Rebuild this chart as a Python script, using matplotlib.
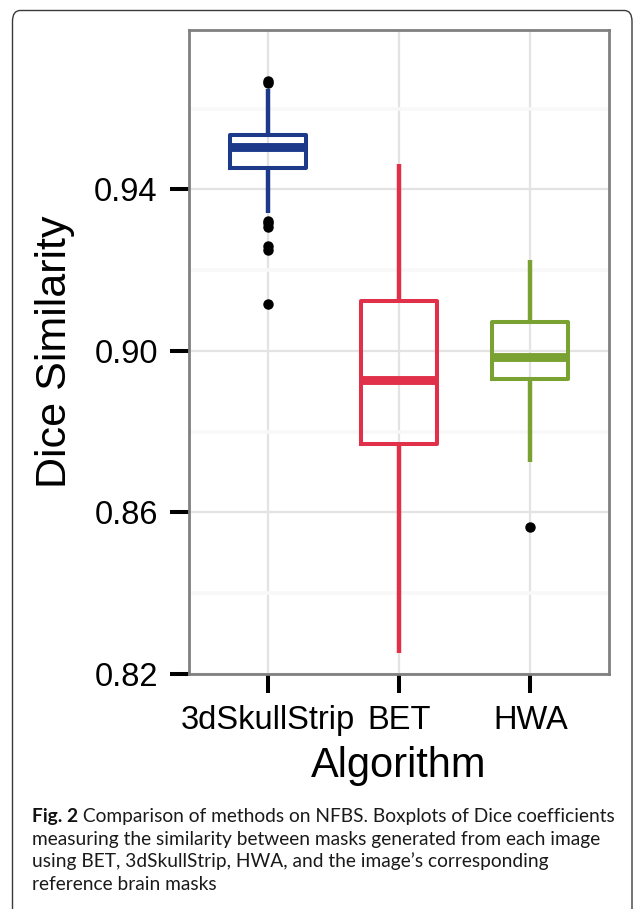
import matplotlib
matplotlib.use("Agg")
import matplotlib.pyplot as plt
from matplotlib.patches import FancyBboxPatch

# Valores (Dice por algoritmo)
ALGORITHMS = ["3dSkullStrip", "BET", "HWA"]
Q1 = [0.9452, 0.8770, 0.8930]
MEDIAN = [0.9504, 0.8927, 0.8985]
Q3 = [0.9536, 0.9125, 0.9073]
WHISKER_LOW = [0.9343, 0.8252, 0.8726]
WHISKER_HIGH = [0.9648, 0.9462, 0.9226]
OUTLIERS = [
    [0.9668, 0.9664, 0.9321, 0.9316, 0.9308, 0.9259, 0.9249, 0.9117],
    [],
    [0.8564],
]
Y_TICKS = [0.82, 0.86, 0.90, 0.94]
Y_MINOR = [0.84, 0.88, 0.92, 0.96]

CAPTION_BOLD = "Fig. 2"
CAPTION_LINES = [
    " Comparison of methods on NFBS. Boxplots of Dice coefficients",
    "measuring the similarity between masks generated from each image",
    "using BET, 3dSkullStrip, HWA, and the image\u2019s corresponding",
    "reference brain masks",
]

COLORS = ["#1d3a8a", "#e0304a", "#7aa232"]
COLOR_SPINE = "#808080"
COLOR_GRID = "#e3e3e3"
COLOR_MINOR = "#f8f8f8"

W, H = 635, 909
fig = plt.figure(figsize=(W / 100, H / 100), dpi=100)
fig.patch.set_facecolor("white")

# Moldura arredondada em volta da figura (sai pela base da imagem)
frame = FancyBboxPatch(
    (12.5 / W, -20 / H), (632 - 12.5) / W, (H - 10.5 + 20) / H,
    boxstyle="round,pad=0,rounding_size=0.012",
    transform=fig.transFigure, facecolor="none", edgecolor="#3a3a3a", linewidth=1.0,
)
fig.patches.append(frame)

ax = fig.add_axes([189 / W, (H - 674) / H, (609 - 189) / W, (674 - 30) / H])

stats = []
for i, name in enumerate(ALGORITHMS):
    stats.append({
        "label": name, "q1": Q1[i], "med": MEDIAN[i], "q3": Q3[i],
        "whislo": WHISKER_LOW[i], "whishi": WHISKER_HIGH[i], "fliers": OUTLIERS[i],
    })

parts = ax.bxp(
    stats, positions=[1, 2, 3], widths=0.58, showcaps=False,
    boxprops=dict(linewidth=2.9, solid_joinstyle="round"),
    medianprops=dict(linewidth=6.4, solid_capstyle="butt"),
    whiskerprops=dict(linewidth=3.2, solid_capstyle="butt"),
    flierprops=dict(marker="o", markersize=6.5, markerfacecolor="black",
                    markeredgecolor="black", linestyle="none"),
    zorder=3,
)
for i, color in enumerate(COLORS):
    parts["boxes"][i].set_color(color)
    parts["medians"][i].set_color(color)
    parts["whiskers"][2 * i].set_color(color)
    parts["whiskers"][2 * i + 1].set_color(color)

ax.set_xlim(0.4, 3.6)
ax.set_ylim(0.82, 0.9795)
ax.set_yticks(Y_TICKS)
ax.set_yticklabels([f"{v:.2f}" for v in Y_TICKS])
ax.set_yticks(Y_MINOR, minor=True)
ax.set_xticks([1, 2, 3])
ax.set_xticklabels(ALGORITHMS)

# Grade estilo ggplot
ax.grid(True, which="major", color=COLOR_GRID, linewidth=1.6)
ax.grid(True, which="minor", axis="y", color=COLOR_MINOR, linewidth=2.6)
ax.set_axisbelow(True)

for spine in ax.spines.values():
    spine.set_color(COLOR_SPINE)
    spine.set_linewidth(2.0)

font = ["Liberation Sans", "DejaVu Sans"]
ax.tick_params(axis="both", which="major", length=13.5, width=2.9, color="black",
               labelsize=23.5, labelcolor="black", pad=9)
ax.tick_params(axis="y", which="minor", length=0)
for lbl in ax.get_xticklabels() + ax.get_yticklabels():
    lbl.set_family(font)

ax.set_ylabel("Dice Similarity", fontsize=31, family=font, labelpad=14)
ax.set_xlabel("Algorithm", fontsize=30, family=font, labelpad=7)

# Legenda (caption) com "Fig. 2" em negrito, ajustada a largura da linha
cap_font = ["Liberation Sans Narrow", "Lato", "DejaVu Sans"]
x0 = 32 / W
target_w = 615 - 32
renderer = fig.canvas.get_renderer()
size = 13.0
for _ in range(3):
    tb = fig.text(x0, 0, CAPTION_BOLD, fontsize=size, fontweight="bold", family=cap_font)
    tr = fig.text(x0, 0, CAPTION_LINES[0], fontsize=size, family=cap_font)
    wb = tb.get_window_extent(renderer).width
    wr = tr.get_window_extent(renderer).width
    tb.remove()
    tr.remove()
    size *= target_w / (wb + wr)

baselines = [822, 845, 867, 890]
tb = fig.text(x0, (H - baselines[0]) / H, CAPTION_BOLD, fontsize=size,
              fontweight="bold", family=cap_font, va="baseline", color="#111111")
wb = tb.get_window_extent(renderer).width
fig.text(x0 + wb / W, (H - baselines[0]) / H, CAPTION_LINES[0], fontsize=size,
         family=cap_font, va="baseline", color="#1a1a1a")
for line, base in zip(CAPTION_LINES[1:], baselines[1:]):
    fig.text(x0, (H - base) / H, line, fontsize=size, family=cap_font,
             va="baseline", color="#1a1a1a")

fig.savefig("out.png", dpi=100)
